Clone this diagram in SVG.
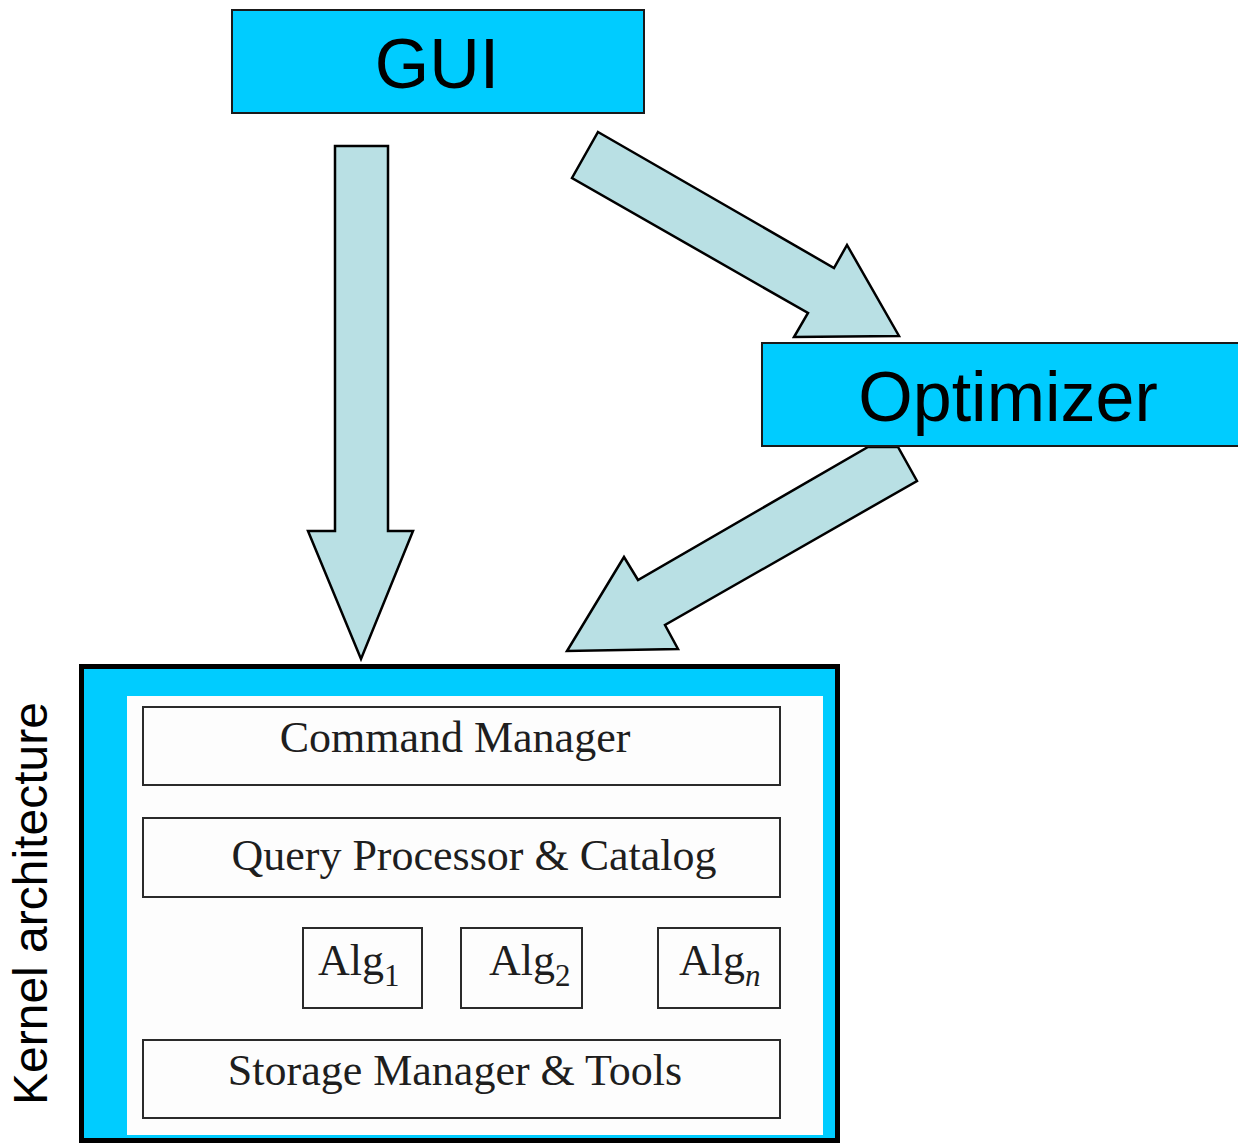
<svg xmlns="http://www.w3.org/2000/svg" width="1238" height="1143" viewBox="0 0 1238 1143">
  <style>
    .box { fill: #00CCFF; stroke: #1a1a1a; stroke-width: 2; }
    .big { font-family: "Liberation Sans", Arial, sans-serif; font-size: 70px; fill: #000; }
    .side { font-family: "Liberation Sans", Arial, sans-serif; font-size: 48px; fill: #000; }
    .arrow { fill: #B9E0E4; stroke: #000; stroke-width: 2.5; stroke-linejoin: miter; }
    .layer { fill: #fdfdfd; stroke: #2a2a2a; stroke-width: 2; }
    .serif { font-family: "Liberation Serif", "Times New Roman", serif; font-size: 44px; fill: #1e1e1e; }
    .sub { font-size: 31px; }
  </style>

  <rect width="1238" height="1143" fill="#ffffff"/>

  <!-- connectors: block arrows -->
  <g id="connectors">
    <polygon class="arrow" points="335,146 388,146 388,531 413,531 361,659 308,531 335,531"/>
    <polygon class="arrow" points="598,132 834,268 847,245 899,336 794,337 808,313 572,178"/>
    <polygon class="arrow" points="868,447 898,447 917,481 665,625 678,649 567,651 624,557 638,580"/>
  </g>

  <!-- GUI -->
  <g id="gui">
    <rect class="box" x="232" y="10" width="412" height="103"/>
    <text class="big" x="437" y="88" text-anchor="middle">GUI</text>
  </g>

  <!-- Optimizer -->
  <g id="optimizer">
    <rect class="box" x="762" y="343" width="480" height="103"/>
    <text class="big" x="1008" y="421" text-anchor="middle">Optimizer</text>
  </g>

  <!-- Kernel -->
  <g id="kernel">
    <rect x="81.5" y="666.5" width="756" height="474" fill="#00CCFF" stroke="#000" stroke-width="5"/>
    <rect x="127" y="696" width="696" height="439" fill="#fdfdfd"/>

    <g id="command-manager">
      <rect class="layer" x="143" y="707" width="637" height="78"/>
      <text class="serif" x="455" y="752" text-anchor="middle">Command Manager</text>
    </g>

    <g id="query-processor">
      <rect class="layer" x="143" y="818" width="637" height="79"/>
      <text class="serif" x="474" y="870" text-anchor="middle">Query Processor &amp; Catalog</text>
    </g>

    <g id="alg1">
      <rect class="layer" x="303" y="928" width="119" height="80"/>
      <text class="serif" x="318" y="975">Alg<tspan class="sub" dy="11">1</tspan></text>
    </g>

    <g id="alg2">
      <rect class="layer" x="461" y="928" width="121" height="80"/>
      <text class="serif" x="489" y="975">Alg<tspan class="sub" dy="11">2</tspan></text>
    </g>

    <g id="algn">
      <rect class="layer" x="658" y="928" width="122" height="80"/>
      <text class="serif" x="679" y="975">Alg<tspan class="sub" dy="11" font-style="italic">n</tspan></text>
    </g>

    <g id="storage-manager">
      <rect class="layer" x="143" y="1040" width="637" height="78"/>
      <text class="serif" x="455" y="1085" text-anchor="middle">Storage Manager &amp; Tools</text>
    </g>
  </g>

  <!-- side label -->
  <g id="kernel-label">
    <text class="side" transform="translate(47,1105) rotate(-90)">Kernel architecture</text>
  </g>
</svg>
